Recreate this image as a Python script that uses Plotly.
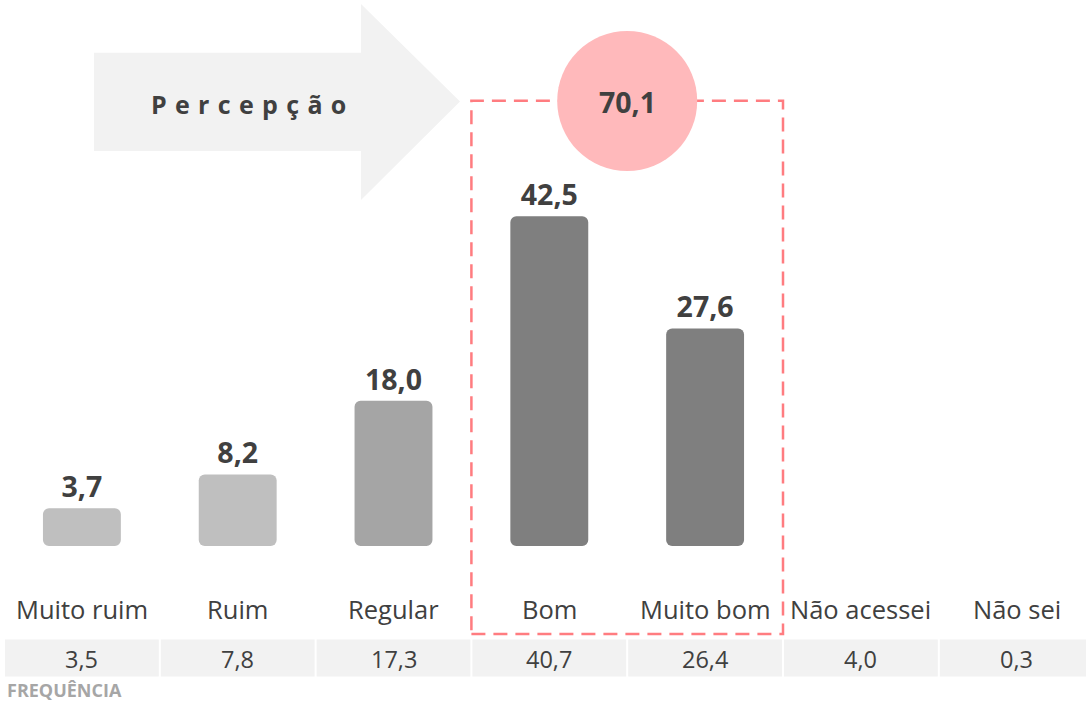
import plotly.graph_objects as go

# ---- data ----
categories = ["Muito ruim", "Ruim", "Regular", "Bom", "Muito bom", "Não acessei", "Não sei"]
bar_values = [3.7, 8.2, 18.0, 42.5, 27.6]          # percepção (valid answers)
freq_values = [3.5, 7.8, 17.3, 40.7, 26.4, 4.0, 0.3]  # frequência row
highlight_idx = [3, 4]                               # Bom + Muito bom
arrow_label = "Percepção"
freq_label = "FREQUÊNCIA"

# ---- styles ----
bar_colors = ["#BFBFBF", "#BFBFBF", "#A5A5A5", "#7F7F7F", "#7F7F7F"]
TXT = "#404040"
FONT = "Open Sans"
BAR_BASE = -1.3  # visual baseline offset of the bars
W, H = 1086, 702
ML, MT, MB = 4, 0, 156
PLOT_W = W - ML
PLOT_H = H - MT - MB
PITCH = 155.8  # pixels per category


def fmt(v):
    return f"{v:.1f}".replace(".", ",")


def px(xp):
    return (xp - ML) / PLOT_W


def py(yp):
    return (MT + PLOT_H - yp) / PLOT_H


fig = go.Figure()
fig.add_trace(go.Bar(
    x=list(range(len(bar_values))),
    y=[v - BAR_BASE for v in bar_values],
    base=BAR_BASE,
    width=0.5,
    marker=dict(color=bar_colors, line=dict(width=0)),
    text=[fmt(v) for v in bar_values],
    textposition="outside",
    textangle=0,
    constraintext="none",
    cliponaxis=False,
    textfont=dict(family=FONT, size=28.5, color=TXT, weight="bold"),
    hoverinfo="skip",
))

shapes = []
annotations = []

# arrow
pts = [(94, 52.7), (361, 52.7), (361, 4), (460, 101.5), (361, 200), (361, 151), (94, 151)]
path = "M " + " L ".join(f"{px(a):.5f},{py(b):.5f}" for a, b in pts) + " Z"
shapes.append(dict(type="path", path=path, xref="paper", yref="paper",
                   fillcolor="#F2F2F2", line=dict(width=0), layer="below"))
annotations.append(dict(text="\u2004".join(arrow_label), x=px(248), y=py(104),
                        xref="paper", yref="paper", showarrow=False,
                        font=dict(family=FONT, size=25, color=TXT, weight="bold"),
                        xanchor="center", yanchor="middle"))

# dashed highlight rectangle
shapes.append(dict(type="rect", xref="x", yref="paper",
                   x0=highlight_idx[0] - 0.5, x1=highlight_idx[-1] + 0.5,
                   y0=py(634), y1=py(100.7),
                   line=dict(color="#FF7C80", width=2.5, dash="14px,8px"),
                   fillcolor="rgba(0,0,0,0)", layer="above"))

# circle with total
r_px = 70
cx = sum(highlight_idx) / len(highlight_idx)
shapes.append(dict(type="circle", xref="x", yref="paper",
                   x0=cx - r_px / PITCH, x1=cx + r_px / PITCH,
                   y0=py(101 + r_px), y1=py(101 - r_px),
                   fillcolor="#FFB9BB", line=dict(width=0), layer="above"))
total = sum(bar_values[i] for i in highlight_idx)
annotations.append(dict(text=fmt(total), x=cx, y=py(102), xref="x", yref="paper",
                        showarrow=False, xanchor="center", yanchor="middle",
                        font=dict(family=FONT, size=28.5, color=TXT, weight="bold")))

# category labels, table cells
gap = 1.0 / PITCH
for i, (cat, fv) in enumerate(zip(categories, freq_values)):
    annotations.append(dict(text=cat, x=i, y=py(609), xref="x", yref="paper",
                            showarrow=False, xanchor="center", yanchor="middle",
                            font=dict(family=FONT, size=25.5, color=TXT)))
    shapes.append(dict(type="rect", xref="x", yref="paper",
                       x0=i - 0.5 + gap, x1=i + 0.5 - gap,
                       y0=py(676.5), y1=py(639.5),
                       fillcolor="#F2F2F2", line=dict(width=0), layer="below"))
    annotations.append(dict(text=fmt(fv), x=i, y=py(658.5), xref="x", yref="paper",
                            showarrow=False, xanchor="center", yanchor="middle",
                            font=dict(family=FONT, size=23.5, color=TXT)))

annotations.append(dict(text=freq_label, x=px(6), y=py(689.5), xref="paper", yref="paper",
                        showarrow=False, xanchor="left", yanchor="middle", borderpad=0,
                        font=dict(family=FONT, size=18, color="#A6A6A6", weight="bold")))

fig.update_layout(
    width=W, height=H,
    margin=dict(l=ML, r=0, t=MT, b=MB, pad=0),
    plot_bgcolor="white", paper_bgcolor="white",
    showlegend=False,
    barcornerradius=6,
    xaxis=dict(range=[-0.5, -0.5 + PLOT_W / PITCH], visible=False, fixedrange=True),
    yaxis=dict(range=[BAR_BASE, BAR_BASE + PLOT_H / 7.53], visible=False, fixedrange=True),
    shapes=shapes,
    annotations=annotations,
)

fig.write_html("out.html", config={"displayModeBar": False, "staticPlot": True},
               post_script="document.body.style.margin='0';document.body.style.overflow='hidden';")
